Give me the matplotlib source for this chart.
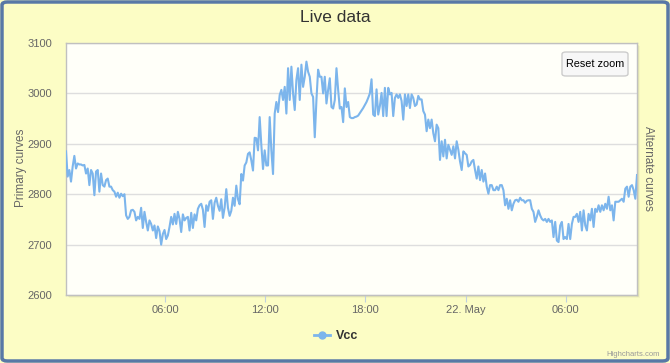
import pandas as pd
import matplotlib.pyplot as plt
from matplotlib.patches import FancyBboxPatch, Rectangle
from matplotlib.lines import Line2D

# Vcc readings, one every 6 minutes
vcc = [
    2885, 2835, 2848, 2825, 2855, 2876, 2851, 2861, 2859, 2859,
    2857, 2858, 2841, 2851, 2818, 2848, 2841, 2798, 2845, 2848,
    2805, 2841, 2818, 2815, 2828, 2831, 2815, 2815, 2808, 2805,
    2795, 2803, 2793, 2801, 2796, 2800, 2758, 2751, 2755, 2768,
    2769, 2765, 2748, 2755, 2751, 2773, 2733, 2765, 2745, 2728,
    2748, 2741, 2728, 2738, 2713, 2736, 2727, 2700, 2721, 2729,
    2711, 2718, 2735, 2755, 2740, 2761, 2741, 2765, 2751, 2725,
    2760, 2748, 2753, 2755, 2728, 2763, 2733, 2760, 2748, 2771,
    2778, 2781, 2769, 2735, 2778, 2767, 2785, 2788, 2751,
    2783, 2793, 2777, 2767, 2790, 2753, 2773, 2810, 2773, 2757,
    2767, 2793, 2777, 2817, 2790, 2780, 2840, 2827, 2857, 2863,
    2880, 2883, 2867, 2847, 2912, 2911, 2887, 2953, 2897, 2850,
    2887, 2857, 2857, 2953, 2887, 2840, 2960, 2983, 2963, 2997,
    3007, 2987, 3013, 2960, 3050, 2987, 3053, 3000, 2967, 3027,
    3050, 2987, 3057, 3013, 3033, 3063, 3043, 3033, 3000, 2993,
    2913, 2987, 3047, 3033, 3033, 3000, 3033, 2980, 3007, 3030,
    2973, 2970, 2987, 3050, 3007, 2970, 2973, 2943, 3010, 2973,
    2983, 2953,
    2951, 2951, 2953, 2954, 2956, 2961, 2966, 2971, 2977, 2983,
    2991, 3000, 3028, 2958, 2955, 3008, 2958, 2975, 3001, 2955,
    3011, 2955, 3011, 2998, 3001, 2955, 2991, 2998, 2991, 2998,
    2985, 2948, 2998, 2975, 2998, 2971, 2998, 2991, 2975, 2978,
    2995, 2988, 2988, 2965, 2958, 2925, 2948, 2931, 2948, 2921,
    2905, 2938, 2931, 2868, 2905, 2875, 2908, 2871, 2898, 2888,
    2878, 2895, 2871, 2905, 2888, 2865, 2848, 2885, 2881, 2878,
    2855, 2858, 2865, 2868, 2848, 2831, 2855, 2828, 2848, 2825,
    2841, 2815, 2801, 2818,
    2818, 2808, 2808, 2815, 2808, 2818, 2818, 2808, 2778, 2791,
    2771, 2788, 2768, 2781, 2788, 2789, 2785, 2793, 2788, 2788,
    2783, 2787, 2788, 2788, 2771, 2765, 2745, 2755, 2768, 2758,
    2751, 2748, 2751, 2745, 2751, 2745, 2748, 2715, 2745, 2708,
    2705, 2738, 2745, 2711, 2715, 2711, 2741, 2711, 2741, 2755,
    2755, 2761, 2745, 2765, 2728, 2768, 2738, 2728, 2761, 2748,
    2771, 2735, 2771, 2765, 2778, 2765, 2778, 2768, 2781, 2771,
    2795, 2768, 2778, 2748, 2785, 2785, 2785, 2788, 2791, 2785,
    2811, 2815, 2795, 2815, 2818, 2808, 2791, 2838,
]
start = '2015-05-21 00:04'

tick_times = ['2015-05-21 06:00', '2015-05-21 12:00', '2015-05-21 18:00',
              '2015-05-22 00:00', '2015-05-22 06:00']
tick_labels = ['06:00', '12:00', '18:00', '22. May', '06:00']
y_ticks = [2600, 2700, 2800, 2900, 3000, 3100]

times = pd.date_range(start, periods=len(vcc), freq='6min')

plt.rcParams['font.family'] = ['Liberation Sans', 'DejaVu Sans']

W, H = 670, 363
fig = plt.figure(figsize=(W / 100, H / 100), dpi=100, facecolor='#fcfdc5')

# outer rounded border
fig.patches.append(FancyBboxPatch((2 / W, 2 / H), 1 - 4 / W, 1 - 4 / H,
                                  boxstyle='round,pad=0,rounding_size=0.008',
                                  transform=fig.transFigure, facecolor='none',
                                  edgecolor='#5878a6', lw=2.5))

# soft plot shadow, behind the axes
for off, a in [(1, 0.10), (2, 0.06), (3, 0.03)]:
    fig.patches.append(Rectangle(((66 + off) / W, 1 - (295 + off) / H), 571 / W, 252 / H,
                                 transform=fig.transFigure, facecolor='black',
                                 edgecolor='none', alpha=a, zorder=-1))

ax = fig.add_axes([66 / W, 1 - 295 / H, 571 / W, 252 / H])
ax.set_zorder(2)
ax.set_facecolor('#fffff9')
ax.plot(times, vcc, color='#7cb5ec', lw=1.5, zorder=3)

ax.set_xlim(times[0], times[-1])
ax.set_ylim(2600, 3100)
ax.set_yticks(y_ticks)
ax.grid(axis='y', color='#dedede', lw=1)
ax.set_xticks(pd.to_datetime(tick_times))
ax.set_xticklabels(tick_labels)
ax.tick_params(axis='x', length=5, color='#c0d0e0', labelcolor='#666666',
               labelsize=8, pad=2)
ax.tick_params(axis='y', length=0, labelcolor='#666666', labelsize=8, pad=10)
for s in ax.spines.values():
    s.set_color('#c0c0c0')
    s.set_linewidth(1)

fig.text(0.5, 1 - 18 / H, 'Live data', ha='center', va='center',
         fontsize=12.5, color='#333333')
fig.text(21 / W, 1 - 168 / H, 'Primary curves', rotation=90, ha='center',
         va='center', fontsize=8.5, color='#666666')
fig.text(648 / W, 1 - 168 / H, 'Alternate curves', rotation=270, ha='center',
         va='center', fontsize=8.5, color='#666666')

# reset zoom button
ax.add_patch(FancyBboxPatch((562 / W, 1 - 76 / H), 66 / W, 24 / H,
                            boxstyle='round,pad=0,rounding_size=0.006',
                            transform=fig.transFigure, facecolor='#f7f7f7',
                            edgecolor='#cccccc', lw=1, zorder=5, clip_on=False))
ax.text(595 / W, 1 - 64 / H, 'Reset zoom', ha='center', va='center',
        transform=fig.transFigure, fontsize=7.8, color='black', zorder=6)

handle = Line2D([], [], color='#7cb5ec', lw=2, marker='o', markersize=5)
fig.legend(handles=[handle], labels=['Vcc'], loc='center',
           bbox_to_anchor=(336 / W, 1 - 336 / H), frameon=False,
           handlelength=1.3, handletextpad=0.5,
           prop={'weight': 'bold', 'size': 9})
for t in fig.legends[0].get_texts():
    t.set_color('#333333')

fig.text(660 / W, 1 - 355 / H, 'Highcharts.com', ha='right', va='center',
         fontsize=5.5, color='#999999')

plt.savefig('out.png', dpi=100, facecolor=fig.get_facecolor())
